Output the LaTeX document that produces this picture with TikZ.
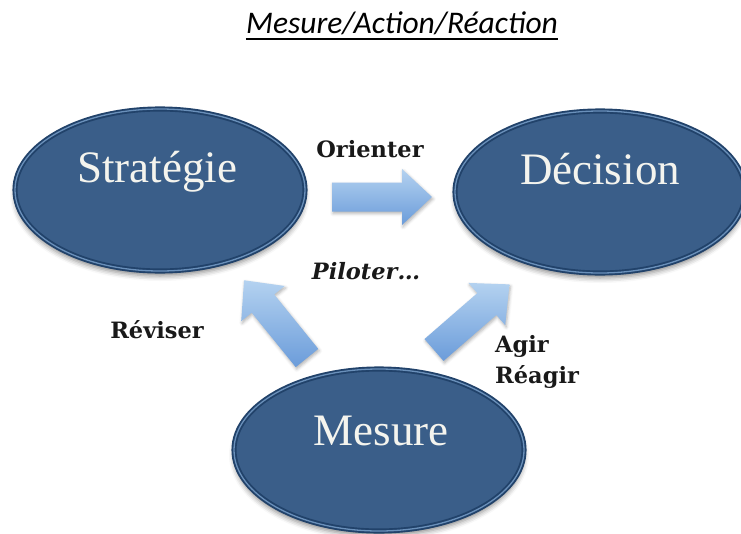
\documentclass[tikz,border=0pt]{standalone}
\usepackage{fontspec}
\setmainfont{Liberation Serif}
\newfontfamily\labelfont{DejaVu Serif}
\newfontfamily\titlefont{Carlito}
\usetikzlibrary{shapes.geometric,shadows.blur,calc}
\definecolor{ellfill}{HTML}{3A5E89}
\definecolor{rimdark}{HTML}{21426A}
\definecolor{rimlight}{HTML}{6A90BA}
\definecolor{arrowlight}{HTML}{B4D2F0}
\definecolor{arrowdark}{HTML}{6B9CDA}
\definecolor{captext}{HTML}{F4F4EE}
\begin{document}
\begin{tikzpicture}[x=1pt,y=-1pt,
  bubble/.style={ellipse, inner sep=0pt, minimum width=290pt, minimum height=162pt,
    fill=ellfill, draw=rimdark, line width=1.9pt, double=rimlight, double distance=1.3pt,
    blur shadow={shadow xshift=0pt, shadow yshift=-5pt, shadow blur radius=5pt, shadow opacity=45}},
  bubbletext/.style={text=captext, font=\fontsize{45}{45}\selectfont, anchor=base, inner sep=0pt},
  lbl/.style={font=\labelfont\bfseries\fontsize{22.5}{22.5}\selectfont, text=black!90, anchor=base, inner sep=0pt},
  blockarrow/.pic={
    \path[top color=arrowlight, bottom color=arrowdark,
      blur shadow={shadow xshift=1pt, shadow yshift=-2pt, shadow blur radius=3pt, shadow opacity=30}]
      (0,14.5) -- (70,14.5) -- (70,28) -- (100,0) -- (70,-28) -- (70,-14.5) -- (0,-14.5) -- cycle;
  }]
  % page frame
  \useasboundingbox (0,0) rectangle (741,533);

  % title
  \node[font=\titlefont\itshape\fontsize{31.5}{31.5}\selectfont, anchor=base, inner sep=0pt]
    (title) at (402,33) {Mesure/Action/Réaction};
  \draw[line width=2pt] ($(title.base west)+(0,6)$) -- ($(title.base east)+(0,6)$);

  % the three ellipses
  \node[bubble] (strat) at (160,190) {};
  \node[bubble] (dec) at (600,192) {};
  \node[bubble] (mes) at (379,450) {};
  \node[bubbletext] (strat-t) at (157,182) {Stratégie};
  \node[bubbletext] (dec-t) at (600,184) {Décision};
  \node[bubbletext] (mes-t) at (381,445) {Mesure};

  % block arrows between the ellipses
  \pic (arrO) at (332,197) {blockarrow};
  \pic[rotate=129] (arrR) at (307,358) {blockarrow};
  \pic[rotate=41] (arrA) at (434,350) {blockarrow};

  % labels
  \node[lbl] (orienter) at (370,157) {Orienter};
  \node[lbl, font=\labelfont\bfseries\itshape\fontsize{22.5}{22.5}\selectfont] (piloter) at (366,279) {Piloter…};
  \node[lbl] (reviser) at (157,338) {Réviser};
  \node[lbl, anchor=base west] (agir) at (495,352) {Agir};
  \node[lbl, anchor=base west] (reagir) at (495,383) {Réagir};
\end{tikzpicture}
\end{document}
